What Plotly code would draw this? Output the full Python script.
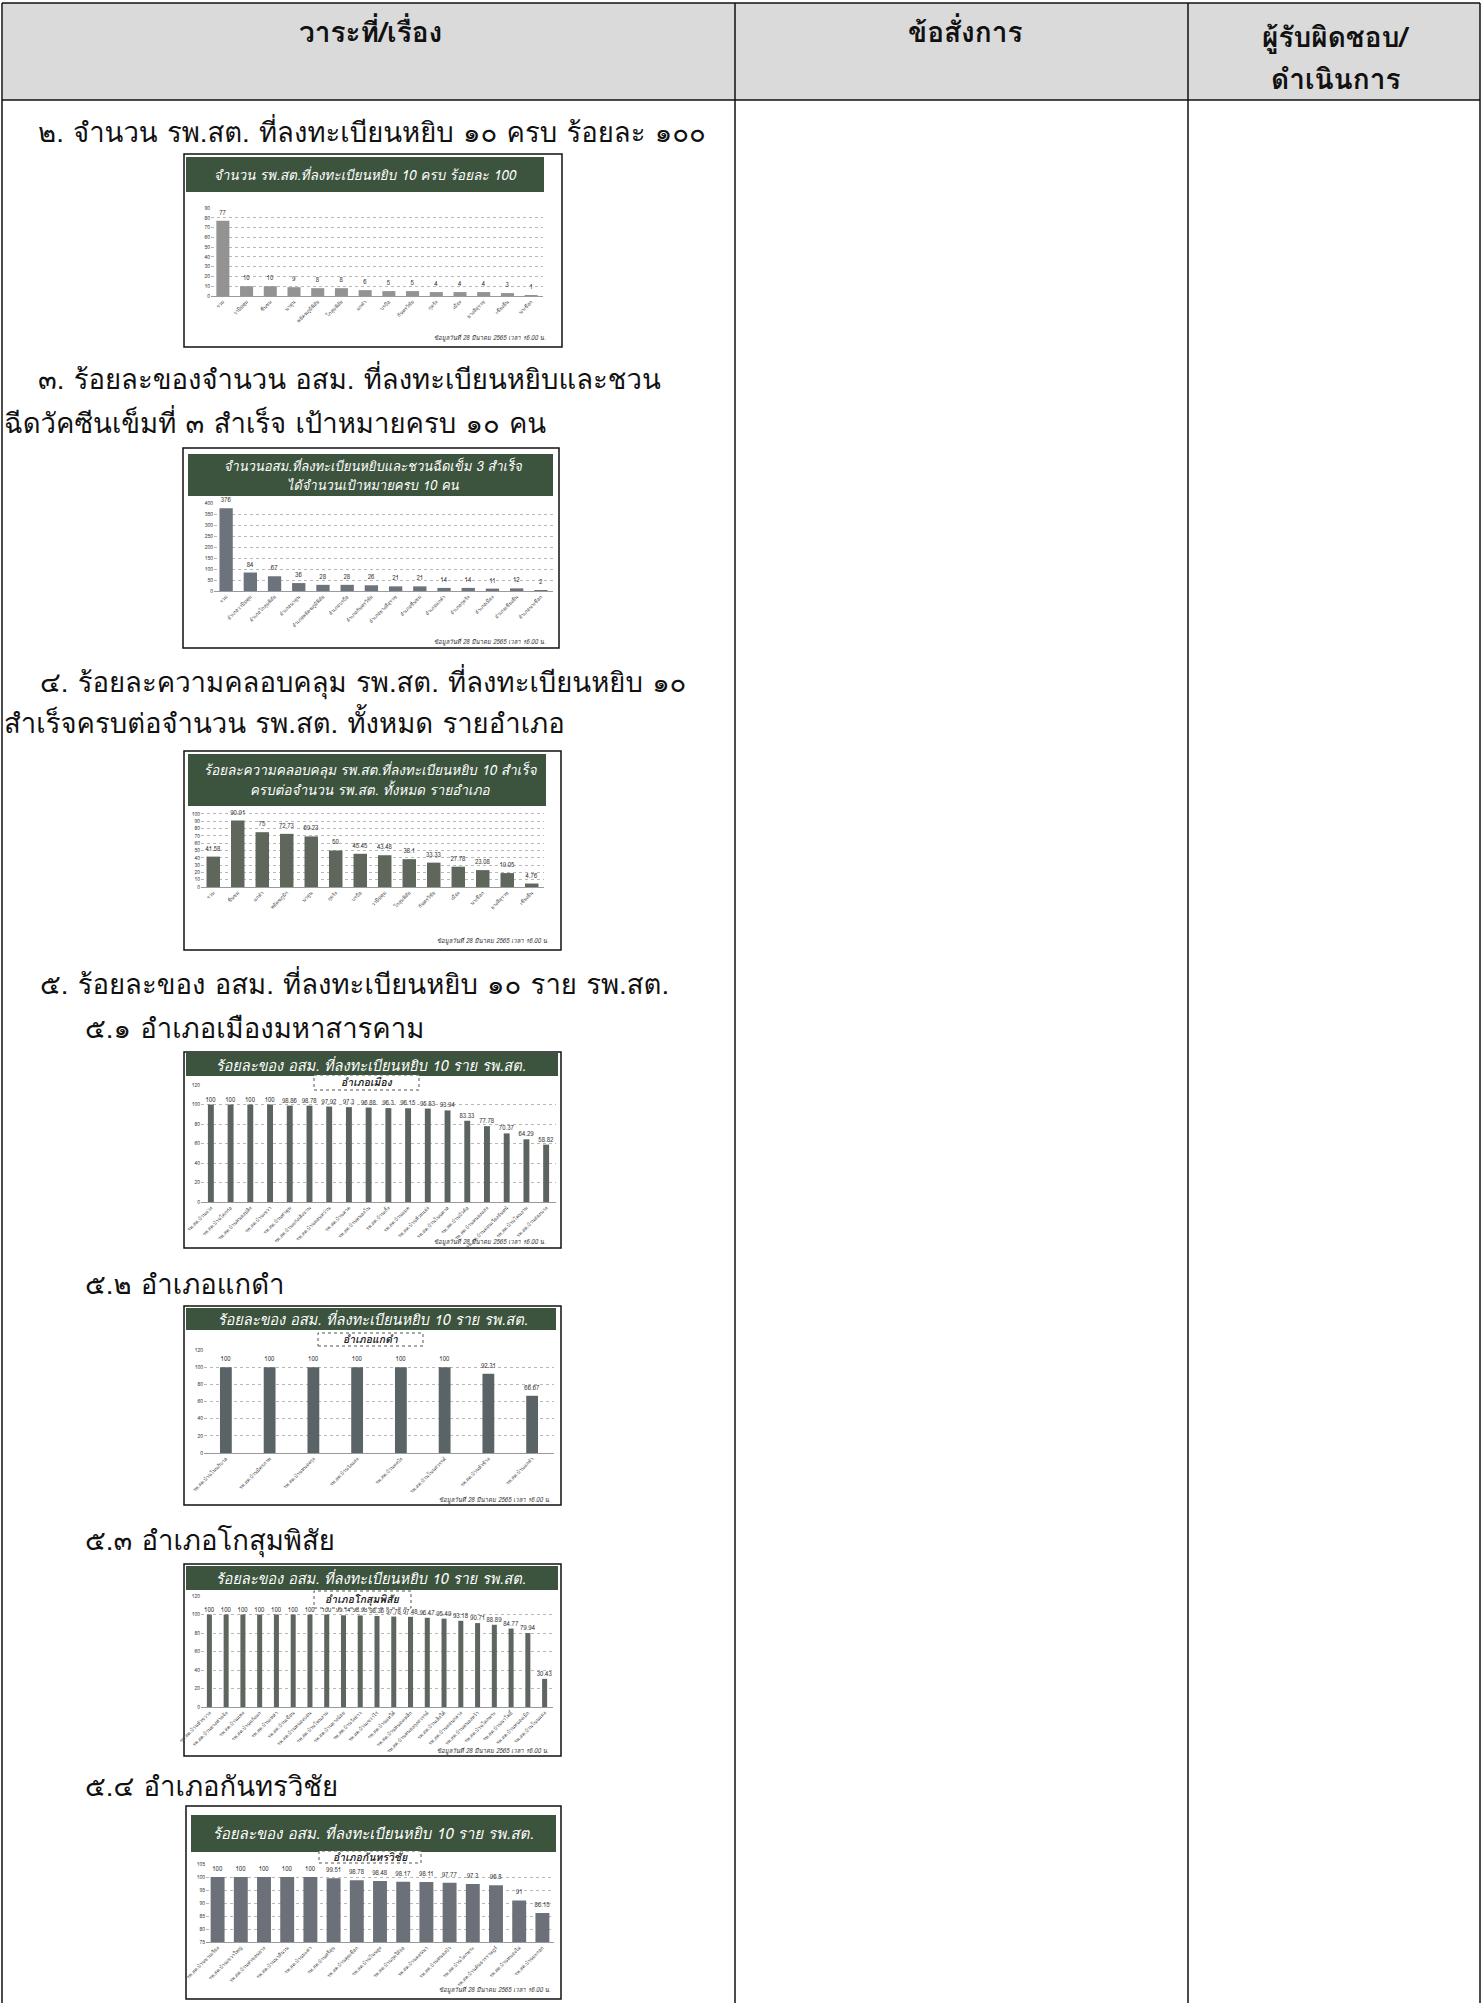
import plotly.graph_objects as go

W, H = 1482, 2003


def fx(x):
    return x / W


def fy(y):
    return 1 - y / H


# ---------------- data ----------------
c1_title = "จำนวน รพ.สต.ที่ลงทะเบียนหยิบ 10 ครบ ร้อยละ 100"
c1_cats = ["รวม", "วาปีปทุม", "ชื่นชม", "นาดูน", "พยัคฆภูมิพิสัย", "โกสุมพิสัย", "แกดำ",
           "บรบือ", "กันทรวิชัย", "กุดรัง", "เมือง", "ยางสีสุราช", "เชียงยืน", "นาเชือก"]
c1_vals = [77, 10, 10, 9, 8, 8, 6, 5, 5, 4, 4, 4, 3, 1]

c2_title = ["จำนวนอสม.ที่ลงทะเบียนหยิบและชวนฉีดเข็ม 3 สำเร็จ", "ได้จำนวนเป้าหมายครบ 10 คน"]
c2_cats = ["รวม", "อำเภอวาปีปทุม", "อำเภอโกสุมพิสัย", "อำเภอนาดูน", "อำเภอพยัคฆภูมิพิสัย",
           "อำเภอบรบือ", "อำเภอกันทรวิชัย", "อำเภอยางสีสุราช", "อำเภอชื่นชม", "อำเภอแกดำ",
           "อำเภอกุดรัง", "อำเภอเมือง", "อำเภอเชียงยืน", "อำเภอนาเชือก"]
c2_vals = [376, 84, 67, 36, 28, 28, 26, 21, 21, 14, 14, 11, 12, 2]

c3_title = ["ร้อยละความคลอบคลุม รพ.สต.ที่ลงทะเบียนหยิบ 10 สำเร็จ", "ครบต่อจำนวน รพ.สต. ทั้งหมด รายอำเภอ"]
c3_cats = ["รวม", "ชื่นชม", "แกดำ", "พยัคฆภูมิฯ", "นาดูน", "กุดรัง", "บรบือ", "วาปีปทุม",
           "โกสุมพิสัย", "กันทรวิชัย", "เมือง", "นาเชือก", "ยางสีสุราช", "เชียงยืน"]
c3_vals = [41.58, 90.91, 75, 72.73, 69.23, 50, 45.45, 43.48, 38.1, 33.33, 27.78, 23.08, 19.05, 4.76]

c5_title = "ร้อยละของ อสม. ที่ลงทะเบียนหยิบ 10 ราย รพ.สต."

c51_sub = "อำเภอเมือง"
c51_cats = ["รพ.สต.บ้านแวง", "รพ.สต.บ้านโคกก่อ", "รพ.สต.บ้านหนองปลิง", "รพ.สต.บ้านเขวา",
            "รพ.สต.บ้านท่าตูม", "รพ.สต.บ้านแก่งเลิงจาน", "รพ.สต.บ้านดอนหว่าน", "รพ.สต.บ้านลาด",
            "รพ.สต.บ้านหนองโน", "รพ.สต.บ้านเกิ้ง", "รพ.สต.บ้านแมด", "รพ.สต.บ้านห้วยแอ่ง",
            "รพ.สต.บ้านโนนตาล", "รพ.สต.บ้านบัวค้อ", "รพ.สต.บ้านหนองแสง", "รพ.สต.บ้านดอนเวียงจันทน์",
            "รพ.สต.บ้านโพนงาม", "รพ.สต.บ้านส่องนาง"]
c51_vals = [100, 100, 100, 100, 98.86, 98.78, 97.92, 97.3, 96.88, 96.3, 96.15, 95.83,
            93.94, 83.33, 77.78, 70.37, 64.29, 58.82]

c52_sub = "อำเภอแกดำ"
c52_cats = ["รพ.สต.บ้านโนนภิบาล", "รพ.สต.บ้านมิตรภาพ", "รพ.สต.บ้านหนองกุง", "รพ.สต.บ้านวังแสง",
            "รพ.สต.บ้านดงบัง", "รพ.สต.บ้านโนนสวรรค์", "รพ.สต.บ้านหัวช้าง", "รพ.สต.บ้านแกดำ"]
c52_vals = [100, 100, 100, 100, 100, 100, 92.31, 66.67]

c53_sub = "อำเภอโกสุมพิสัย"
c53_cats = ["รพ.สต.บ้านหัวขวาง", "รพ.สต.บ้านยางท่าแจ้ง", "รพ.สต.บ้านแพง", "รพ.สต.บ้านแก้งแก",
            "รพ.สต.บ้านเหล่า", "รพ.สต.บ้านเขื่อน", "รพ.สต.บ้านหนองบอน", "รพ.สต.บ้านโพนงาม",
            "รพ.สต.บ้านยางน้อย", "รพ.สต.บ้านวังยาว", "รพ.สต.บ้านเขวาไร่", "รพ.สต.บ้านแห่ใต้",
            "รพ.สต.บ้านหนองเหล็ก", "รพ.สต.บ้านหนองกุงสวรรค์", "รพ.สต.บ้านเลิงใต้", "รพ.สต.บ้านดอนกลาง",
            "รพ.สต.บ้านหนองหว้า", "รพ.สต.บ้านโคกพระ", "รพ.สต.บ้านนาโพธิ์", "รพ.สต.บ้านหนองเม็ก",
            "รพ.สต.บ้านโนนแดง"]
c53_vals = [100, 100, 100, 100, 100, 100, 100, 100, 99.14, 98.98, 98.36, 97.78, 97.48,
            96.47, 95.49, 93.18, 90.71, 88.89, 84.77, 79.94, 30.43]

c54_sub = "อำเภอกันทรวิชัย"
c54_cats = ["รพ.สต.บ้านขามเรียง", "รพ.สต.บ้านเขวาใหญ่", "รพ.สต.บ้านท่าขอนยาง", "รพ.สต.บ้านนาสีนวน",
            "รพ.สต.บ้านมะค่า", "รพ.สต.บ้านศรีสุข", "รพ.สต.บ้านคุยเชือก", "รพ.สต.บ้านโนนสูง",
            "รพ.สต.บ้านกุดใส้จ่อ", "รพ.สต.บ้านดอนนา", "รพ.สต.บ้านหนองบัว", "รพ.สต.บ้านโคกพระ",
            "รพ.สต.บ้านคันธารราษฎร์", "รพ.สต.บ้านหนองไผ่", "รพ.สต.บ้านมะกอก"]
c54_vals = [100, 100, 100, 100, 100, 99.51, 98.78, 98.48, 98.17, 98.11, 97.77, 97.3,
            96.8, 91, 86.15]

foot_text = "ข้อมูลวันที่ 28 มีนาคม 2565 เวลา 16.00 น."

header_texts = ["วาระที่/เรื่อง", "ข้อสั่งการ", "ผู้รับผิดชอบ/", "ดำเนินการ"]
body_lines = [
    "๒. จำนวน รพ.สต. ที่ลงทะเบียนหยิบ ๑๐ ครบ ร้อยละ ๑๐๐",
    "๓. ร้อยละของจำนวน อสม. ที่ลงทะเบียนหยิบและชวน",
    "ฉีดวัคซีนเข็มที่ ๓ สำเร็จ เป้าหมายครบ ๑๐ คน",
    "๔. ร้อยละความคลอบคลุม รพ.สต. ที่ลงทะเบียนหยิบ ๑๐",
    "สำเร็จครบต่อจำนวน รพ.สต. ทั้งหมด รายอำเภอ",
    "๕. ร้อยละของ อสม. ที่ลงทะเบียนหยิบ ๑๐ ราย รพ.สต.",
    "๕.๑ อำเภอเมืองมหาสารคาม",
    "๕.๒ อำเภอแกดำ",
    "๕.๓ อำเภอโกสุมพิสัย",
    "๕.๔ อำเภอกันทรวิชัย",
]

# ---------------- layout geometry (pixels) ----------------
THAI = "Loma, Garuda, Tlwg Typo, Noto Sans Thai, Sarabun, Noto Sans, DejaVu Sans, sans-serif"

line_pos = [(36, 132), (36, 379), (2, 423), (38, 682), (2, 723), (38, 984),
            (83, 1028), (83, 1284), (83, 1540), (83, 1786)]

charts = [
    dict(cats=c1_cats, vals=c1_vals, title=[c1_title], ty=[175], tx=365, tsize=13.5,
         box=(184, 154, 562, 347), banner=(186, 157, 544, 192), sub=None,
         plot=(211, 208, 543, 296), yr=[0, 90], dt=10, color="#939393", width=0.55,
         foot=(548, 338)),
    dict(cats=c2_cats, vals=c2_vals, title=c2_title, ty=[467, 486], tx=373, tsize=13,
         box=(183, 448, 559, 648), banner=(188, 454, 553, 496), sub=None,
         plot=(214, 503, 553, 591), yr=[0, 400], dt=50, color="#6d737c", width=0.55,
         foot=(548, 642)),
    dict(cats=c3_cats, vals=c3_vals, title=c3_title, ty=[770, 790], tx=370, tsize=13.5,
         box=(184, 751, 561, 950), banner=(188, 754, 546, 806), sub=None,
         plot=(201, 811, 544, 887), yr=[0, 104], dt=10, color="#5f665c", width=0.55,
         foot=(551, 941)),
    dict(cats=c51_cats, vals=c51_vals, title=[c5_title], ty=[1065], tx=371, tsize=14.5,
         box=(184, 1052, 561, 1248), banner=(186, 1053, 558, 1076),
         sub=(314, 1075, 419, 1090, c51_sub),
         plot=(201, 1085, 556, 1202), yr=[0, 120], dt=20, color="#5c6460", width=0.3,
         foot=(548, 1242)),
    dict(cats=c52_cats, vals=c52_vals, title=[c5_title], ty=[1319], tx=373, tsize=14.5,
         box=(184, 1306, 561, 1505), banner=(186, 1308, 556, 1330),
         sub=(318, 1333, 423, 1346, c52_sub),
         plot=(204, 1350, 554, 1453), yr=[0, 120], dt=20, color="#5a6366", width=0.27,
         foot=(553, 1500)),
    dict(cats=c53_cats, vals=c53_vals, title=[c5_title], ty=[1578], tx=371, tsize=14.5,
         box=(184, 1564, 561, 1756), banner=(186, 1566, 558, 1590),
         sub=(314, 1591, 411, 1608, c53_sub),
         plot=(201, 1596, 553, 1707), yr=[0, 120], dt=20, color="#5f665f", width=0.3,
         foot=(551, 1751)),
    dict(cats=c54_cats, vals=c54_vals, title=[c5_title], ty=[1834], tx=373, tsize=15,
         box=(186, 1806, 561, 1999), banner=(191, 1815, 556, 1852),
         sub=(319, 1851, 421, 1863, c54_sub),
         plot=(206, 1864, 554, 1942), yr=[75, 105], dt=5, color="#6c7078", width=0.6,
         foot=(553, 1990)),
]

fig = go.Figure()
shapes = []
annotations = []
layout_axes = {}

# table header background and lines
shapes.append(dict(type="rect", xref="paper", yref="paper", x0=fx(3), x1=fx(1480),
                   y0=fy(100), y1=fy(3), fillcolor="#dadada", line=dict(width=0), layer="below"))
for (x0, y0, x1, y1) in [(2, 3, 1480, 3), (2, 100, 1480, 100), (2, 3, 2, 2003),
                         (735, 3, 735, 2003), (1188, 3, 1188, 2003), (1480, 3, 1480, 2003)]:
    shapes.append(dict(type="line", xref="paper", yref="paper", x0=fx(x0), x1=fx(x1),
                       y0=fy(y0), y1=fy(y1), line=dict(color="#111111", width=1.5), layer="above"))

hdr_pos = [(370, 32), (965, 32), (1335, 37), (1335, 79)]
for t, (x, y) in zip(header_texts, hdr_pos):
    annotations.append(dict(text="<b>" + t + "</b>", x=fx(x), y=fy(y), xref="paper", yref="paper",
                            showarrow=False, xanchor="center", yanchor="middle",
                            font=dict(family=THAI, size=28, color="#111111")))

for t, (x, y) in zip(body_lines, line_pos):
    annotations.append(dict(text=t, x=fx(x), y=fy(y), xref="paper", yref="paper",
                            showarrow=False, xanchor="left", yanchor="middle",
                            font=dict(family=THAI, size=27.5, color="#111111")))

for i, c in enumerate(charts, start=1):
    bx0, by0, bx1, by1 = c["box"]
    shapes.append(dict(type="rect", xref="paper", yref="paper", x0=fx(bx0), x1=fx(bx1),
                       y0=fy(by1), y1=fy(by0), fillcolor="white",
                       line=dict(color="#111111", width=1.5), layer="below"))
    gx0, gy0, gx1, gy1 = c["banner"]
    shapes.append(dict(type="rect", xref="paper", yref="paper", x0=fx(gx0), x1=fx(gx1),
                       y0=fy(gy1), y1=fy(gy0), fillcolor="#3c543d",
                       line=dict(width=0), layer="below"))
    for t, ty in zip(c["title"], c["ty"]):
        annotations.append(dict(text="<i>" + t + "</i>", x=fx(c["tx"]), y=fy(ty), xref="paper",
                                yref="paper", showarrow=False, xanchor="center", yanchor="middle",
                                font=dict(family=THAI, size=c["tsize"], color="white")))
    if c["sub"]:
        sx0, sy0, sx1, sy1, st = c["sub"]
        shapes.append(dict(type="rect", xref="paper", yref="paper", x0=fx(sx0), x1=fx(sx1),
                           y0=fy(sy1), y1=fy(sy0), fillcolor="white",
                           line=dict(color="#555555", width=1, dash="dot"), layer="above"))
        annotations.append(dict(text="<b><i>" + st + "</i></b>", x=fx((sx0 + sx1) / 2),
                                y=fy((sy0 + sy1) / 2), xref="paper", yref="paper",
                                showarrow=False, xanchor="center", yanchor="middle",
                                font=dict(family=THAI, size=10.5, color="#222222")))
    fxp, fyp = c["foot"]
    annotations.append(dict(text="<i>" + foot_text + "</i>", x=fx(fxp), y=fy(fyp),
                            xref="paper", yref="paper", showarrow=False, xanchor="right",
                            yanchor="middle", font=dict(family=THAI, size=6, color="#333333")))

    px0, py0, px1, py1 = c["plot"]
    sfx = "" if i == 1 else str(i)
    fig.add_trace(go.Bar(
        x=c["cats"], y=c["vals"], xaxis="x" + sfx, yaxis="y" + sfx,
        marker=dict(color=c["color"], line=dict(width=0)), width=c["width"],
        text=[f"{v:g}" for v in c["vals"]], textposition="outside", cliponaxis=False,
        constraintext="none", textfont=dict(family=THAI, size=6, color="#333333"),
        showlegend=False, hoverinfo="skip"))
    layout_axes["xaxis" + sfx] = dict(
        domain=[fx(px0), fx(px1)], anchor="y" + sfx, tickangle=-45,
        tickfont=dict(family=THAI, size=5, color="#444444"), showgrid=False,
        showline=True, linecolor="#9a9a9a", linewidth=1, ticks="", fixedrange=True,
        automargin=False)
    layout_axes["yaxis" + sfx] = dict(
        domain=[fy(py1), fy(py0)], anchor="x" + sfx, range=c["yr"], dtick=c["dt"],
        tickfont=dict(family=THAI, size=5, color="#444444"), showgrid=True,
        gridcolor="#b8b8b8", griddash="dot", gridwidth=0.6, zeroline=False,
        ticks="", fixedrange=True, automargin=False)

fig.update_layout(
    width=W, height=H, autosize=False,
    margin=dict(l=0, r=0, t=0, b=0, pad=0, autoexpand=False),
    paper_bgcolor="white", plot_bgcolor="#e8e9e8",
    shapes=shapes, annotations=annotations, showlegend=False,
    **layout_axes)

fig.write_html("out.html", config={"displayModeBar": False},
               post_script="document.body.style.margin='0';")
